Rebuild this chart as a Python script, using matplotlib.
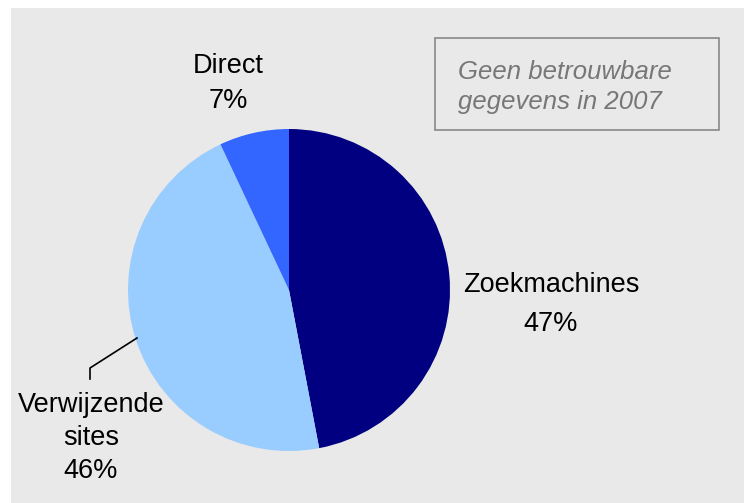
import matplotlib
matplotlib.use("Agg")
import matplotlib.pyplot as plt
from matplotlib.patches import Rectangle

categories = ["Zoekmachines", "Verwijzende\nsites", "Direct"]
values = [47, 46, 7]
colors = ["#000080", "#99ccff", "#3366ff"]
note = ["Geen betrouwbare", "gegevens in 2007"]

plt.rcParams['font.family'] = ['Liberation Sans', 'DejaVu Sans']

W, H = 744, 503
fig = plt.figure(figsize=(W/100, H/100), dpi=100, facecolor="white")
ax = fig.add_axes([0, 0, 1, 1])

ax.add_patch(Rectangle((11, 0), W - 11, H - 8, facecolor="#e9e9e9", edgecolor="none", zorder=0))

cx, cy, r = 289, H - 290, 161
ax.pie(values, colors=colors, startangle=90, counterclock=False,
       center=(cx, cy), radius=r, frame=True, wedgeprops=dict(linewidth=0))
ax.set_xlim(0, W)
ax.set_ylim(0, H)
ax.set_aspect("equal")
ax.axis("off")

fs = 19.5


def label(x, ys, lines):
    for y, t in zip(ys, lines):
        ax.text(x, H - y, t, ha="center", va="center", fontsize=fs, color="black")


label(228, [66, 101], ["Direct", f"{values[2]}%"])
label(551, [285, 324], ["Zoekmachines", f"{values[0]}%"])
label(91, [405, 438, 471], categories[1].split("\n") + [f"{values[1]}%"])
ax.plot([137, 90, 90], [H - 338, H - 368, H - 379], color="black", lw=1.2)

ax.add_patch(Rectangle((435, H - 130), 284, 92, facecolor="none", edgecolor="#888888", lw=1.2))
for y, t in zip([72, 102], note):
    ax.text(458, H - y, t, ha="left", va="center", fontsize=18.5, style="italic", color="#777777")

fig.savefig("out.png", dpi=100, facecolor="white")
